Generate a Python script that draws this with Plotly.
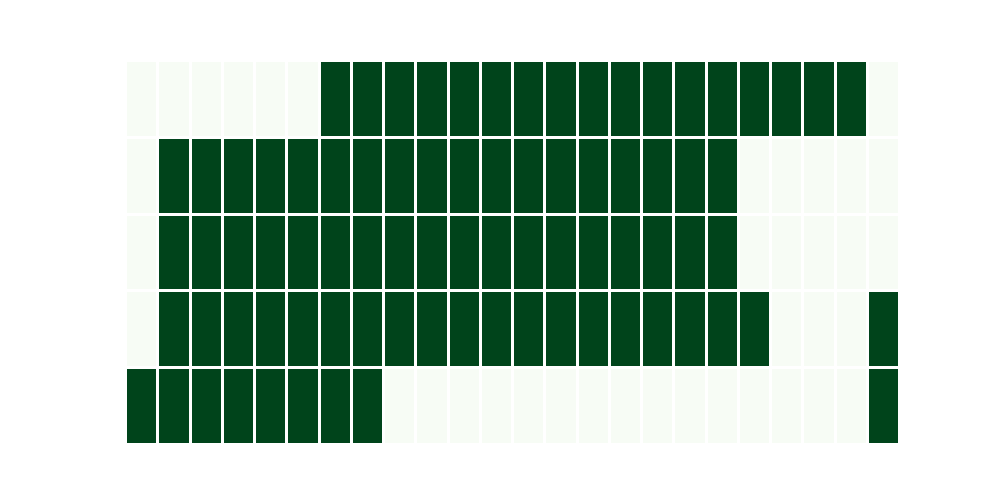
import plotly.graph_objects as go

rows = ["r0", "r1", "r2", "r3", "r4"]
cols = [f"c{i}" for i in range(24)]
z_values = [
    [0]*6 + [1]*17 + [0],
    [0] + [1]*18 + [0]*5,
    [0] + [1]*18 + [0]*5,
    [0] + [1]*19 + [0]*3 + [1],
    [1]*8 + [0]*15 + [1],
]

fig = go.Figure(go.Heatmap(
    z=z_values, x=cols, y=rows,
    colorscale="Greens", zmin=0, zmax=1,
    showscale=False, xgap=3, ygap=3,
))
fig.update_yaxes(autorange="reversed", visible=False)
fig.update_xaxes(visible=False)
fig.update_layout(
    width=1000, height=500,
    margin=dict(l=118, r=108, t=53, b=63),
    plot_bgcolor="white", paper_bgcolor="white",
)
fig.write_html("out.html")
